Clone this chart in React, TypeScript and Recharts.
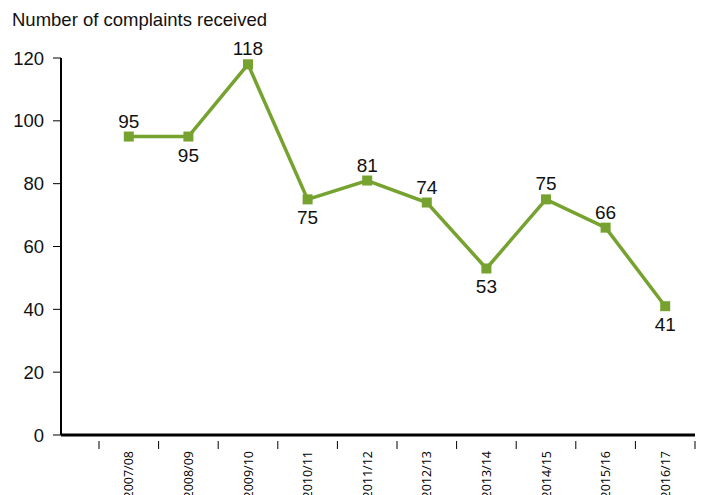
import { LineChart, Line, XAxis, YAxis, LabelList } from 'recharts';

const years = ['2007/08', '2008/09', '2009/10', '2010/11', '2011/12', '2012/13', '2013/14', '2014/15', '2015/16', '2016/17'];
const complaints = [95, 95, 118, 75, 81, 74, 53, 75, 66, 41];
// where each value label sits relative to its point
const labelSide = ['above', 'below', 'above', 'below', 'above', 'above', 'below', 'above', 'above', 'below'];
const yTicks = [0, 20, 40, 60, 80, 100, 120];

const GREEN = '#76a22f';
const BAND = (695 - 99) / years.length;
const FONT = "'Liberation Sans', Arial, sans-serif";

const data = years.map((year, i) => ({ year, complaints: complaints[i], side: labelSide[i] }));

const SquareDot = (props: any) => {
  const { cx, cy } = props;
  if (cx == null || cy == null) return null;
  return <rect x={cx - 5} y={cy - 5} width={10} height={10} fill={GREEN} />;
};

const XTick = (props: any) => {
  const { x, y, payload, index } = props;
  const last = index === years.length - 1;
  return (
    <g>
      <line x1={x - BAND / 2} x2={x - BAND / 2} y1={y - 2} y2={y + 6} stroke="#000" strokeWidth={1} />
      {last && <line x1={x + BAND / 2} x2={x + BAND / 2} y1={y - 2} y2={y + 6} stroke="#000" strokeWidth={1} />}
      <text
        x={0}
        y={0}
        transform={`translate(${x + 4.5}, ${y + 8}) rotate(-90)`}
        textAnchor="end"
        fontSize={12.5}
        fontFamily="'Open Sans', sans-serif"
        fill="#000"
      >
        {payload.value}
      </text>
    </g>
  );
};

const ValueLabel = (props: any) => {
  const { x, y, value, index } = props;
  const below = labelSide[index] === 'below';
  return (
    <text x={x} y={below ? y + 25 : y - 9} textAnchor="middle" fontSize={19} fontFamily={FONT} fill="#111">
      {value}
    </text>
  );
};

export default function App() {
  return (
    <div style={{ position: 'absolute', left: 0, top: 0, width: 702, height: 495, background: '#fff', overflow: 'hidden' }}>
      <div style={{ position: 'absolute', left: 12, top: 9, fontSize: 18.5, fontFamily: FONT, color: '#111' }}>
        Number of complaints received
      </div>
      <LineChart width={702} height={495} data={data} margin={{ top: 58, right: 7, bottom: 0, left: 0 }}>
        <XAxis
          dataKey="year"
          scale="band"
          padding={{ left: 38, right: 0 }}
          height={60}
          axisLine={{ stroke: '#000', strokeWidth: 3 }}
          tickLine={false}
          tick={<XTick />}
          interval={0}
        />
        <YAxis
          width={61}
          domain={[0, 120]}
          ticks={yTicks}
          interval={0}
          axisLine={{ stroke: '#000', strokeWidth: 2 }}
          tickLine={{ stroke: '#000', strokeWidth: 1 }}
          tickSize={8}
          tickMargin={9}
          tick={{ fontSize: 18.5, fill: '#111', fontFamily: FONT }}
        />
        <Line
          type="linear"
          dataKey="complaints"
          stroke={GREEN}
          strokeWidth={3.5}
          dot={<SquareDot />}
          activeDot={false}
          isAnimationActive={false}
        >
          <LabelList dataKey="complaints" content={<ValueLabel />} />
        </Line>
      </LineChart>
    </div>
  );
}
